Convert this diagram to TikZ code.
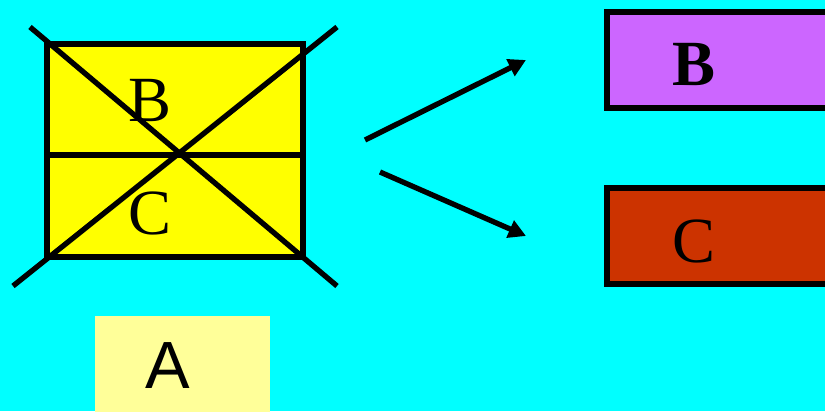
\documentclass[tikz,border=0pt]{standalone}
\usepackage{fontspec}
\setmainfont{Liberation Serif}
\newfontfamily\arialfont{Liberation Sans}
\usetikzlibrary{arrows.meta,calc}

\definecolor{bgcyan}{RGB}{0,255,255}
\definecolor{boxyellow}{RGB}{255,255,0}
\definecolor{paleyellow}{RGB}{255,255,153}
\definecolor{partviolet}{RGB}{204,102,255}
\definecolor{partrust}{RGB}{204,51,0}

\begin{document}
\begin{tikzpicture}[
  x=0.3mm, y=-0.3mm,
  thick line/.style={line width=1.6mm},
  arrow line/.style={line width=1.6mm, -{Triangle[length=5.2mm, width=5.4mm]}},
  big serif/.style={font=\fontsize{55}{60}\selectfont, inner sep=0pt},
  box/.style={draw, line width=1.6mm}
]

% canvas
\useasboundingbox (0,0) rectangle (825,411);
\clip (0,0) rectangle (825,411);
\fill[bgcyan] (0,0) rectangle (825,411);

%================================================
% LEFT:  crossed-out box A = B over C
%================================================
\coordinate (tl) at (47,44);
\coordinate (br) at (303,257);

\fill[boxyellow] (tl) rectangle (br);
\draw[thick line] (tl) rectangle (br);
\draw[thick line] (47,155) -- (303,155);

\node[big serif] (labB) at (150,100) {B};
\node[big serif] (labC) at (150,213) {C};

% the cross
\coordinate (x1) at (30,27);
\coordinate (x2) at (337,286);
\coordinate (x3) at (337,27);
\coordinate (x4) at (13,286);
\draw[thick line] (x1) -- (x2);
\draw[thick line] (x3) -- (x4);

% label A
\fill[paleyellow] (95,316) rectangle (270,420);
\node[font=\arialfont\fontsize{57}{60}\selectfont, inner sep=0pt] (labA) at (168,366) {A};

%================================================
% ARROWS
%================================================
\coordinate (s1) at (365,140);
\coordinate (e1) at (526,60);
\coordinate (s2) at (380,172);
\coordinate (e2) at (526,236);
\draw[arrow line] (s1) -- (e1);
\draw[arrow line] (s2) -- (e2);

%================================================
% RIGHT:  the two parts
%================================================
\fill[partviolet] (607,12) rectangle (840,108);
\draw[box] (607,12) rectangle (840,108);
\node[big serif, font=\bfseries\fontsize{55}{60}\selectfont] (partB) at (694,64) {B};

\fill[partrust] (607,188) rectangle (840,284);
\draw[box] (607,188) rectangle (840,284);
\node[big serif] (partC) at (694,241) {C};

\end{tikzpicture}
\end{document}
